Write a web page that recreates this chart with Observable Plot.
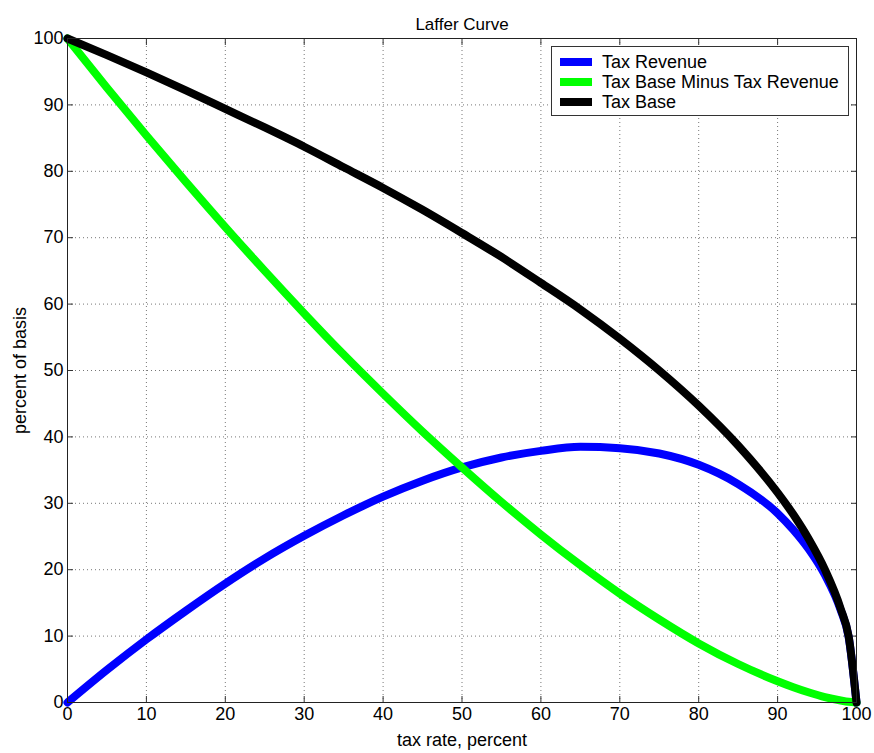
<!DOCTYPE html>
<html>
<head>
<meta charset="utf-8">
<script src="https://cdn.jsdelivr.net/npm/d3@7"></script>
<script src="https://cdn.jsdelivr.net/npm/@observablehq/plot@0.6"></script>
<style>
  body { margin: 0; background: #fff; font-family: "Liberation Sans", Arial, sans-serif; }
  #wrap { position: relative; width: 874px; height: 753px; }
  #legend { position: absolute; left: 551px; top: 46px; width: 296px; height: 68px;
    background: #fff; border: 1px solid #333; font-size: 18px; color: #000; }
  .row { position: absolute; left: 8px; height: 20px; display: flex; align-items: center; }
  .sw { width: 32px; height: 8px; margin-right: 10px; }
</style>
</head>
<body>
<div id="wrap"></div>
<script>
const taxRate = [0,5,10,15,20,25,30,35,40,45,50,55,60,65,70,75,80,85,90,92,94,96,98,99,100];
const taxBase = [100,97.5,94.9,92.2,89.4,86.6,83.7,80.6,77.5,74.2,70.7,67.1,63.2,59.2,54.8,50.0,44.7,38.7,31.6,28.3,24.5,20.0,14.1,10.0,0];
const taxRevenue = [0,4.9,9.5,13.8,17.9,21.7,25.1,28.2,31.0,33.4,35.4,36.9,37.9,38.5,38.3,37.5,35.8,32.9,28.5,26.0,23.0,19.2,13.9,9.9,0];
const baseMinusRevenue = [100,92.6,85.4,78.4,71.6,65.0,58.6,52.4,46.5,40.8,35.4,30.2,25.3,20.7,16.4,12.5,8.9,5.8,3.2,2.3,1.5,0.8,0.3,0.1,0];
const xTicks = [0,10,20,30,40,50,60,70,80,90,100];
const yTicks = [0,10,20,30,40,50,60,70,80,90,100];
const seriesNames = ["Tax Revenue", "Tax Base Minus Tax Revenue", "Tax Base"];
const seriesColors = ["#0000ff", "#00ff00", "#000000"];
const titleText = "Laffer Curve";
const xLabel = "tax rate, percent";
const yLabel = "percent of basis";

const seriesValues = [taxRevenue, baseMinusRevenue, taxBase];
const rows = [];
seriesNames.forEach((name, i) => taxRate.forEach((t, j) => rows.push({series: name, x: t, y: seriesValues[i][j]})));

const noText = () => "";
const chart = Plot.plot({
  width: 874,
  height: 753,
  marginLeft: 67,
  marginRight: 18,
  marginTop: 38,
  marginBottom: 51,
  style: {fontFamily: "Liberation Sans, Arial, sans-serif", fontSize: "18px", color: "#000", background: "#fff"},
  x: {domain: [0, 100]},
  y: {domain: [0, 100]},
  color: {domain: seriesNames, range: seriesColors},
  marks: [
    Plot.gridX(xTicks, {stroke: "#777", strokeOpacity: 1, strokeDasharray: "1,3"}),
    Plot.gridY(yTicks, {stroke: "#777", strokeOpacity: 1, strokeDasharray: "1,3"}),
    Plot.axisX(xTicks, {anchor: "bottom", tickSize: 0, tickPadding: 5, label: xLabel, labelAnchor: "center", labelArrow: "none", labelOffset: 43}),
    Plot.axisY(yTicks, {anchor: "left", tickSize: 0, tickPadding: 4, label: yLabel, labelAnchor: "center", labelArrow: "none", labelOffset: 54}),
    Plot.axisX(xTicks, {anchor: "bottom", tickSize: -6, tickFormat: noText, label: null, stroke: "#333"}),
    Plot.axisX(xTicks, {anchor: "top", tickSize: -6, tickFormat: noText, label: null, stroke: "#333"}),
    Plot.axisY(yTicks, {anchor: "left", tickSize: -6, tickFormat: noText, label: null, stroke: "#333"}),
    Plot.axisY(yTicks, {anchor: "right", tickSize: -6, tickFormat: noText, label: null, stroke: "#333"}),
    Plot.line(rows, {x: "x", y: "y", z: "series", stroke: "series", strokeWidth: 8, curve: "monotone-x"}),
    Plot.frame({stroke: "#222"}),
    Plot.text([titleText], {frameAnchor: "top", dy: -21, fontSize: 17})
  ]
});
document.getElementById("wrap").appendChild(chart);

const legend = document.createElement("div");
legend.id = "legend";
seriesNames.forEach((name, i) => {
  const r = document.createElement("div");
  r.className = "row";
  r.style.top = (5 + i * 20) + "px";
  const sw = document.createElement("div");
  sw.className = "sw";
  sw.style.background = seriesColors[i];
  const tx = document.createElement("span");
  tx.textContent = name;
  r.appendChild(sw); r.appendChild(tx);
  legend.appendChild(r);
});
document.getElementById("wrap").appendChild(legend);
</script>
</body>
</html>
